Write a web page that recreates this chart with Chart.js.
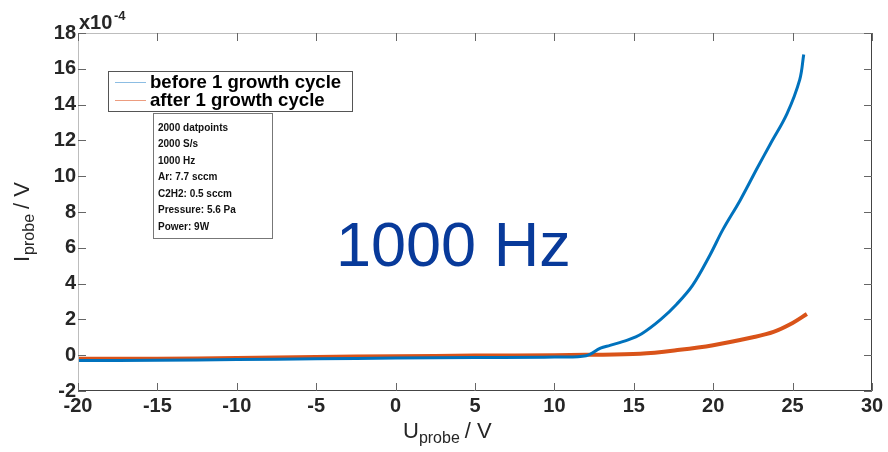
<!DOCTYPE html>
<html>
<head>
<meta charset="utf-8">
<script src="https://cdn.jsdelivr.net/npm/chart.js@4/dist/chart.umd.min.js"></script>
<style>
  html, body { margin: 0; padding: 0; background: #fff; }
  #wrap { width: 888px; height: 452px; position: relative; }
</style>
</head>
<body>
<div id="wrap"><canvas id="c"></canvas></div>
<script>
// ---- probe I-V curve, values in units of 1e-4 ----
const xBefore = [-20, -15, -10, -5, 0, 5, 10, 12, 12.9, 13.5, 14.6, 15.5, 16.7, 17.7, 18.7, 19.8, 20.6, 21.7, 22.8, 23.6, 24.65, 25.45, 25.7];
const yBefore = [-0.3, -0.28, -0.24, -0.2, -0.16, -0.13, -0.1, -0.03, 0.39, 0.55, 0.84, 1.2, 2.0, 2.85, 3.9, 5.6, 7.0, 8.66, 10.5, 11.8, 13.5, 15.4, 16.8];
const xAfter = [-20, -15, -10, -5, 0, 5, 10, 12, 15.4, 17.9, 20, 22.5, 23.8, 25, 25.9];
const yAfter = [-0.2, -0.2, -0.15, -0.1, -0.06, -0.02, 0, 0.02, 0.08, 0.3, 0.56, 1.0, 1.3, 1.8, 2.3];
const seriesNames = ['before 1 growth cycle', 'after 1 growth cycle'];
const infoLines = ['2000 datpoints', '2000 S/s', '1000 Hz', 'Ar: 7.7 sccm', 'C2H2: 0.5 sccm', 'Pressure: 5.6 Pa', 'Power: 9W'];

const BLUE = '#0072BD', ORANGE = '#D95319';
const FONT = '"Liberation Sans", Arial, Helvetica, sans-serif';
const pts = (xs, ys) => xs.map((x, i) => ({ x, y: ys[i] }));

// MATLAB-style box, inward ticks, legend, annotation and axis titles
const decor = {
  id: 'decor',
  afterDraw(chart) {
    const { ctx, chartArea: a, scales: { x, y } } = chart;
    ctx.save();
    ctx.lineWidth = 1;
    // frame
    ctx.strokeStyle = '#bdbdbd';
    ctx.beginPath();
    ctx.moveTo(a.left + 0.5, a.bottom); ctx.lineTo(a.left + 0.5, a.top + 0.5); ctx.lineTo(a.right, a.top + 0.5);
    ctx.stroke();
    ctx.strokeStyle = '#444';
    ctx.beginPath();
    ctx.moveTo(a.left, a.bottom - 0.5); ctx.lineTo(a.right - 0.5, a.bottom - 0.5); ctx.lineTo(a.right - 0.5, a.top);
    ctx.stroke();
    // inward ticks
    ctx.strokeStyle = '#666';
    ctx.beginPath();
    x.ticks.forEach(t => {
      const px = Math.round(x.getPixelForValue(t.value)) + 0.5;
      ctx.moveTo(px, a.bottom); ctx.lineTo(px, a.bottom - 8);
      ctx.moveTo(px, a.top); ctx.lineTo(px, a.top + 8);
    });
    y.ticks.forEach(t => {
      const py = Math.round(y.getPixelForValue(t.value)) + 0.5;
      ctx.moveTo(a.left, py); ctx.lineTo(a.left + 8, py);
      ctx.moveTo(a.right, py); ctx.lineTo(a.right - 8, py);
    });
    ctx.stroke();

    // exponent label
    ctx.fillStyle = '#262626';
    ctx.textBaseline = 'alphabetic';
    ctx.textAlign = 'left';
    ctx.font = 'bold 20px ' + FONT;
    ctx.fillText('x10', a.left + 1, 29);
    ctx.font = 'bold 13px ' + FONT;
    ctx.fillText('-4', a.left + 36, 20);

    // legend
    ctx.fillStyle = '#fff';
    ctx.fillRect(108, 71, 244, 40);
    ctx.strokeStyle = '#555';
    ctx.strokeRect(108.5, 71.5, 244, 40);
    const legCols = ['#8cbde3', '#ec9c7f'];
    seriesNames.forEach((n, i) => {
      const ly = 82 + i * 18;
      ctx.strokeStyle = legCols[i];
      ctx.beginPath(); ctx.moveTo(115, ly + 0.5); ctx.lineTo(146, ly + 0.5); ctx.stroke();
      ctx.fillStyle = '#000';
      ctx.font = 'bold 18.6px ' + FONT;
      ctx.textBaseline = 'middle';
      ctx.fillText(n, 150, ly + 1);
    });

    // info box
    ctx.fillStyle = '#fff';
    ctx.fillRect(153, 113, 119, 125);
    ctx.strokeStyle = '#777';
    ctx.strokeRect(153.5, 113.5, 119, 125);
    ctx.fillStyle = '#111';
    ctx.font = 'bold 10px ' + FONT;
    infoLines.forEach((s, i) => ctx.fillText(s, 158, 128 + i * 16.5));

    // big annotation
    ctx.fillStyle = '#083a9a';
    ctx.font = '63px ' + FONT;
    ctx.textBaseline = 'alphabetic';
    ctx.fillText('1000 Hz', 336, 266);

    // x title
    ctx.fillStyle = '#262626';
    ctx.font = '22px ' + FONT;
    let xx = 403;
    ctx.fillText('U', xx, 438); xx += ctx.measureText('U').width;
    ctx.font = '16px ' + FONT;
    ctx.fillText('probe', xx, 443); xx += ctx.measureText('probe').width + 5;
    ctx.font = '22px ' + FONT;
    ctx.fillText('/ V', xx, 438);

    // y title
    ctx.translate(29, 262);
    ctx.rotate(-Math.PI / 2);
    let yy = 0;
    ctx.fillText('I', yy, 0); yy += ctx.measureText('I').width + 1;
    ctx.font = '16px ' + FONT;
    ctx.fillText('probe', yy, 5); yy += ctx.measureText('probe').width + 5;
    ctx.font = '22px ' + FONT;
    ctx.fillText('/ V', yy, 0);
    ctx.restore();
  },
};

const tickFont = { family: FONT, size: 20, weight: 'bold' };

new Chart(document.getElementById('c').getContext('2d'), {
  type: 'scatter',
  data: {
    datasets: [
      { label: seriesNames[0], data: pts(xBefore, yBefore), showLine: true, borderColor: BLUE, borderWidth: 3, pointRadius: 0, tension: 0.35 },
      { label: seriesNames[1], data: pts(xAfter, yAfter), showLine: true, borderColor: ORANGE, borderWidth: 4, pointRadius: 0, tension: 0.35 },
    ],
  },
  plugins: [decor],
  options: {
    responsive: true,
    maintainAspectRatio: false,
    animation: false,
    layout: { padding: { top: 33, right: 16, left: 0, bottom: 0 } },
    plugins: { legend: { display: false }, tooltip: { enabled: false } },
    scales: {
      x: {
        min: -20, max: 30,
        ticks: { stepSize: 5, color: '#262626', font: tickFont, padding: 3, maxRotation: 0 },
        grid: { display: false, drawTicks: false }, border: { display: false },
        afterFit: s => { s.height = 61; },
      },
      y: {
        min: -2, max: 18,
        ticks: { stepSize: 2, color: '#262626', font: tickFont, padding: 2 },
        grid: { display: false, drawTicks: false }, border: { display: false },
        afterFit: s => { s.width = 78; },
      },
    },
  },
});
</script>
</body>
</html>
